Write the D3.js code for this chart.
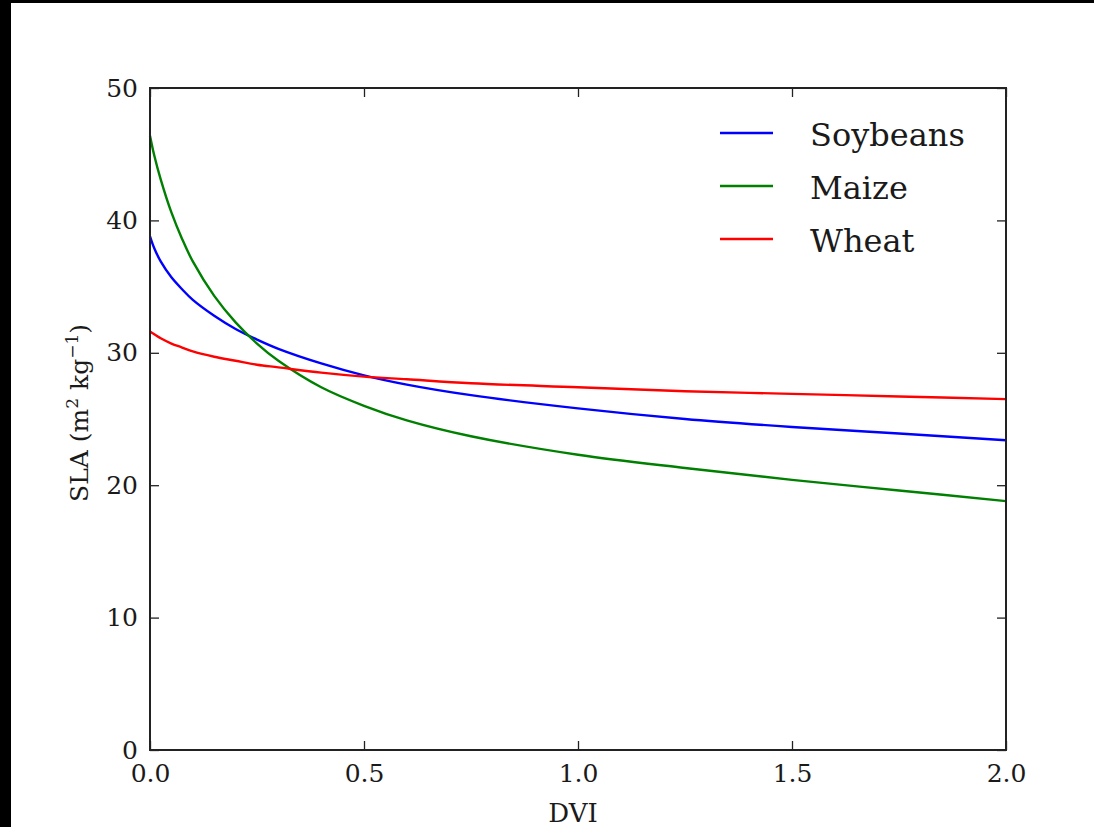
<!DOCTYPE html>
<html>
<head>
<meta charset="utf-8">
<script src="https://cdn.jsdelivr.net/npm/d3@7"></script>
<style>
  body { margin: 0; background: #000; }
  svg { display: block; }
  text { font-family: "DejaVu Serif", "Liberation Serif", serif; fill: #1a1a1a; }
</style>
</head>
<body>
<div id="chart"></div>
<script>
// DVI sample points and SLA values
const dvi = [0, 0.01, 0.025, 0.05, 0.075, 0.1, 0.15, 0.2, 0.25, 0.3, 0.4, 0.5, 0.6, 0.75, 1.0, 1.25, 1.5, 1.75, 2.0];
const soybeans = [38.8, 37.9, 36.9, 35.7, 34.8, 34.0, 32.8, 31.8, 31.0, 30.3, 29.2, 28.3, 27.6, 26.8, 25.8, 25.0, 24.4, 23.9, 23.4];
const maize = [46.4, 44.9, 43.1, 40.6, 38.6, 36.9, 34.3, 32.3, 30.7, 29.4, 27.4, 26.0, 24.9, 23.7, 22.3, 21.3, 20.4, 19.6, 18.8];
const wheat = [31.6, 31.4, 31.1, 30.7, 30.4, 30.1, 29.7, 29.4, 29.1, 28.9, 28.5, 28.2, 28.0, 27.7, 27.4, 27.1, 26.9, 26.7, 26.5];

const seriesNames = ["Soybeans", "Maize", "Wheat"];
const seriesColors = ["#0000ff", "#008000", "#ff0000"];
const xTicks = [0, 0.5, 1.0, 1.5, 2.0];
const yTicks = [0, 10, 20, 30, 40, 50];

const W = 1094, H = 827;
const margin = {top: 88, right: 88, bottom: 77, left: 150};

const svg = d3.select("#chart").append("svg")
    .attr("width", W)
    .attr("height", H);

// white canvas inside the black frame of the screenshot
svg.append("rect")
    .attr("x", 11).attr("y", 3)
    .attr("width", W - 11).attr("height", H - 3)
    .attr("fill", "#fff");

const x = d3.scaleLinear().domain([0, 2]).range([margin.left, W - margin.right]);
const y = d3.scaleLinear().domain([0, 50]).range([H - margin.bottom, margin.top]);

const g = svg.append("g");

const line = d3.line()
    .x((d, i) => x(dvi[i]))
    .y(d => y(d))
    .curve(d3.curveCatmullRom.alpha(0.5));

[soybeans, maize, wheat].forEach((vals, k) => {
    g.append("path")
        .attr("d", line(vals))
        .attr("fill", "none")
        .attr("stroke", seriesColors[k])
        .attr("stroke-width", 2.4);
});

// axes: ticks inward on all four sides
const tickLen = 9;
const fmtX = d3.format(".1f");

const axBottom = g.append("g").attr("transform", `translate(0,${y(0)})`)
    .call(d3.axisBottom(x).tickValues(xTicks).tickFormat(fmtX).tickSizeInner(-tickLen).tickSizeOuter(0).tickPadding(14));
const axTop = g.append("g").attr("transform", `translate(0,${y(50)})`)
    .call(d3.axisTop(x).tickValues(xTicks).tickFormat("").tickSizeInner(-tickLen).tickSizeOuter(0));
const axLeft = g.append("g").attr("transform", `translate(${x(0)},0)`)
    .call(d3.axisLeft(y).tickValues(yTicks).tickFormat(d3.format("d")).tickSizeInner(-tickLen).tickSizeOuter(0).tickPadding(12));
const axRight = g.append("g").attr("transform", `translate(${x(2)},0)`)
    .call(d3.axisRight(y).tickValues(yTicks).tickFormat("").tickSizeInner(-tickLen).tickSizeOuter(0));

[axBottom, axTop, axLeft, axRight].forEach(a => {
    a.select(".domain").remove();
    a.selectAll(".tick line").attr("stroke", "#222").attr("stroke-width", 1.3);
    a.selectAll("text").attr("font-family", null)
        .style("font-family", "'DejaVu Serif', serif")
        .style("font-size", "25px").attr("fill", "#222");
});

// frame
g.append("rect")
    .attr("x", x(0)).attr("y", y(50))
    .attr("width", x(2) - x(0)).attr("height", y(0) - y(50))
    .attr("fill", "none").attr("stroke", "#222").attr("stroke-width", 2);

// axis labels
svg.append("text")
    .attr("x", (x(0) + x(2)) / 2 - 5).attr("y", 822)
    .attr("text-anchor", "middle")
    .style("font-size", "26px")
    .text("DVI");

const yl = svg.append("text")
    .attr("transform", `translate(88,${(y(0) + y(50)) / 2 - 6}) rotate(-90)`)
    .attr("text-anchor", "middle")
    .style("font-size", "25px");
yl.append("tspan").text("SLA (m");
yl.append("tspan").attr("dy", -10).style("font-size", "17px").text("2");
yl.append("tspan").attr("dy", 10).text(" kg");
yl.append("tspan").attr("dy", -10).style("font-size", "17px").text("\u22121");
yl.append("tspan").attr("dy", 10).text(")");

// legend
const legend = svg.append("g");
seriesNames.forEach((name, k) => {
    const ly = 133 + k * 53;
    legend.append("line")
        .attr("x1", 720).attr("x2", 773)
        .attr("y1", ly).attr("y2", ly)
        .attr("stroke", seriesColors[k]).attr("stroke-width", 2.4);
    legend.append("text")
        .attr("x", 810).attr("y", ly + 13)
        .style("font-size", "32px")
        .text(name);
});
</script>
</body>
</html>
